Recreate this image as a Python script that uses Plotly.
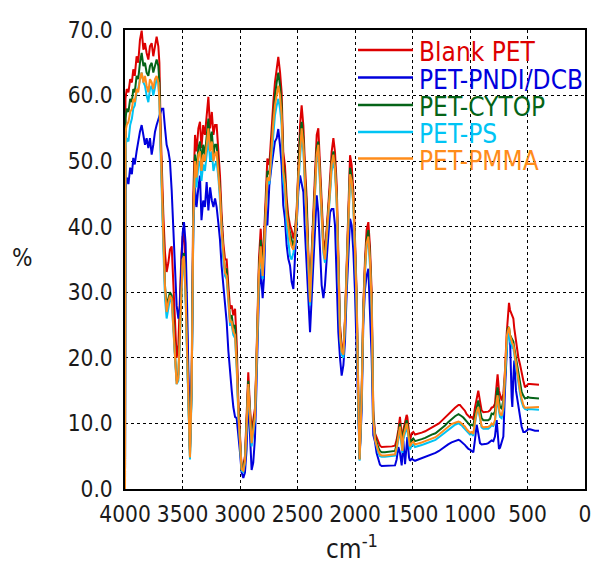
import plotly.graph_objects as go

# Wavenumber grid (cm^-1), descending
wavenumber = [
    4000, 3996, 3985, 3970, 3955, 3940, 3928, 3915, 3899, 3885, 3870, 3855, 3840, 3826, 3812,
    3797, 3783, 3768, 3754, 3739, 3725, 3710, 3701, 3690, 3680, 3667, 3652, 3638, 3623, 3609,
    3594, 3580, 3567, 3551, 3536, 3522, 3510, 3499, 3487, 3473, 3460, 3449, 3435, 3420, 3406,
    3391, 3378, 3362, 3348, 3335, 3320, 3305, 3290, 3275, 3260, 3245, 3231, 3217, 3203, 3188,
    3174, 3160, 3145, 3130, 3116, 3101, 3087, 3072, 3058, 3043, 3029, 3014, 3000, 2986, 2971,
    2957, 2943, 2928, 2913, 2899, 2885, 2870, 2861, 2849, 2835, 2820, 2803, 2792, 2774, 2762,
    2745, 2725, 2710, 2696, 2681, 2667, 2652, 2638, 2624, 2609, 2594, 2580, 2565, 2551, 2536,
    2522, 2507, 2493, 2478, 2464, 2449, 2435, 2420, 2406, 2391, 2377, 2362, 2348, 2333, 2319,
    2304, 2290, 2275, 2261, 2246, 2232, 2217, 2203, 2188, 2174, 2159, 2145, 2130, 2116, 2101,
    2087, 2072, 2058, 2043, 2029, 2014, 2000, 1986, 1971, 1960, 1942, 1928, 1913, 1899, 1884,
    1870, 1855, 1841, 1826, 1812, 1797, 1783, 1768, 1740, 1710, 1680, 1652, 1638, 1623, 1609,
    1594, 1588, 1580, 1565, 1551, 1545, 1530, 1522, 1507, 1493, 1478, 1450, 1420, 1390, 1360,
    1333, 1300, 1270, 1240, 1217, 1190, 1160, 1130, 1100, 1087, 1072, 1058, 1043, 1029, 1014,
    1000, 985, 971, 957, 942, 928, 913, 899, 884, 870, 855, 841, 826, 812, 797,
    783, 768, 760, 748, 739, 725, 710, 696, 681, 672, 661, 652, 638, 632, 623,
    615, 600, 580, 565, 551, 536, 522, 507, 493, 478, 464, 449, 435, 420, 405,
    400,
]

# Transmittance (%) for each film
blank_pet = [
    0, 59.5, 61, 60.5, 62.5, 62, 64, 63, 66, 65, 68.5, 69.9, 67, 68, 66.5,
    65.5, 67.5, 68, 66, 67.5, 69, 67.5, 65, 55, 48, 42, 36, 33.1, 34.5, 36.5,
    37, 32, 26, 20, 22, 30, 35.5, 38.5, 39, 33, 24, 15, 6, 18, 45,
    54, 51.5, 55, 56, 52, 55.5, 54, 57.5, 59.8, 55, 57.5, 54, 55.5, 55.5, 52,
    47.8, 42, 37.5, 35, 35, 31, 27.5, 28, 26.5, 27.5, 22.4, 13.3, 7.7, 3.1, 3.6,
    5, 11, 17.8, 12.3, 8.7, 10.5, 12.3, 17.3, 24.9, 35.1, 39.7, 34.1, 38.2, 46.3, 50.4,
    49.4, 55.4, 59, 62, 64.1, 65.9, 63.6, 60.5, 51.4, 49.3, 44.3, 41.7, 40.2, 39.5, 38.2,
    39.5, 42.7, 49.4, 55.4, 58.5, 55.4, 49.4, 44.3, 36.1, 30, 36.1, 42.2, 49.4, 54, 55,
    49.4, 42.2, 38.2, 36.1, 39.2, 43.3, 47.4, 51.4, 53.5, 51.4, 46.3, 35.1, 24.9, 21.9, 20.9,
    26, 35.1, 45.3, 50.9, 49.4, 45.3, 38.2, 30, 14.8, 4.6, 15, 28, 35, 39.5, 40.7,
    37, 30, 12, 8.5, 7.8, 7, 6.6, 6.4, 6.4, 6.5, 6.5, 6.6, 7.5, 9, 11,
    8, 6.2, 9, 10.5, 11.3, 11, 9, 7.4, 8.5, 8.7, 8.3, 8.4, 8.6, 8.8, 9.1,
    9.3, 9.6, 10, 10.5, 10.9, 11.4, 11.9, 12.4, 12.8, 12.8, 12.5, 12.2, 11.9, 11.4, 11.1,
    10.9, 11, 10.6, 12.4, 13.5, 15, 13.4, 12, 11.7, 11.7, 11.7, 11.8, 12, 12.4, 12.5,
    13, 16, 17.5, 15, 14.5, 13.5, 14.5, 18, 23.7, 26.5, 28.4, 27.3, 26.7, 26.2, 26,
    24.5, 22.5, 20.1, 19, 17.6, 16.5, 15.5, 15.7, 16, 16, 16, 15.9, 15.9, 15.9, 15.9,
    15.9,
]

pet_pndi_dcb = [
    0, 45.5, 47.5, 46.5, 49, 48, 50.5, 49.5, 51.5, 53, 54.5, 55.5, 54, 52.5, 53.5,
    52, 53.5, 51, 52.5, 54.5, 55.5, 56.5, 57, 57.5, 58, 58, 55, 52.5, 51.5, 50,
    45.5, 40.5, 34, 28, 26, 28, 34, 39, 40.7, 37.5, 28, 18, 6, 16, 40,
    46, 43, 46, 47.8, 41, 44, 43, 46.8, 42.5, 46, 44, 43, 44.3, 43, 40.5,
    38, 34, 31, 29, 25.5, 21, 17.3, 15, 12.5, 11, 10.8, 8.5, 5.6, 2.5, 1.7,
    2.5, 6, 14, 8, 2.9, 4, 7.7, 13, 19.9, 30, 33.6, 29.1, 32, 42.2, 40.2,
    46.3, 49.4, 51.4, 53, 53.5, 54.9, 52.4, 49.4, 43.3, 41.2, 37.1, 35.1, 34.1, 31.6, 30.5,
    35.1, 41.2, 45.3, 47.8, 46.5, 45.3, 39.2, 33.1, 27.5, 23.9, 29.1, 35.1, 40.2, 44.8, 42.2,
    35.1, 31.1, 29.1, 31.1, 35.1, 39.2, 42.2, 42.7, 42.7, 40.2, 30, 23.9, 19.9, 17.3, 18.9,
    22.5, 30, 35.1, 41.2, 40.2, 36.1, 30, 19.9, 9.7, 4.6, 12, 25, 30.5, 32.5, 33.6,
    28, 20, 8.2, 7.2, 5.5, 4.3, 3.7, 3.5, 3.5, 3.5, 3.6, 3.6, 4.5, 6.4, 5.5,
    3.6, 5, 7.4, 3.8, 6.5, 7.9, 4.8, 4.3, 4.6, 4.4, 4.3, 4.5, 4.7, 4.8, 5,
    5.2, 5.5, 5.8, 6.2, 6.5, 6.8, 7.1, 7.3, 7.5, 7.4, 7.2, 7.0, 6.7, 6.4, 6.1,
    6.0, 5.8, 5.6, 7.5, 9.8, 8.5, 7, 6.8, 6.8, 6.9, 6.9, 7, 7.2, 7.4, 7.3,
    8, 10.5, 8, 6.1, 6.3, 7, 8, 15, 20, 24.2, 23.5, 23, 14, 12.5, 17,
    19.6, 15, 12.5, 11, 9.5, 8.7, 8.7, 8.9, 9.1, 9.1, 9, 8.9, 8.9, 8.9, 8.9,
    8.9,
]

pet_cytop = [
    0, 56.5, 58, 57.5, 59.5, 59, 61, 60.5, 63, 62.5, 65, 66.5, 64.5, 65, 63.5,
    63, 64.5, 65, 63.5, 64.5, 65.5, 64.5, 62, 53, 46, 39, 31, 28, 29, 30,
    29.5, 26, 21, 16.5, 17.5, 24, 31, 35, 36, 30, 21, 13, 5, 16, 42,
    51, 48.5, 52, 53, 49.5, 52.5, 51, 54, 56.5, 52.5, 54.5, 51, 52.5, 52.5, 49.5,
    45.5, 40.5, 36, 33.5, 33.5, 29.5, 26, 26.5, 24.5, 25, 20, 12, 7, 3.0, 3.2,
    4.5, 10, 16.5, 11.5, 7.5, 9.5, 11.5, 16.5, 24, 33.5, 38, 33, 36.5, 45, 48.5,
    48, 53.5, 57, 60, 62, 63.5, 61.5, 58.5, 49.5, 47.5, 43, 40.5, 39, 38, 37,
    38.5, 42, 48, 53.5, 56, 53.5, 47.5, 43, 35, 29, 35, 41, 48, 52, 53,
    47.5, 41, 37, 35.5, 38.5, 42.5, 46, 50, 51.5, 49.5, 44.5, 34, 24, 21, 20.5,
    25.5, 34, 44, 49, 47.5, 44, 37, 29, 13.5, 4.5, 14.5, 27, 34, 38, 39.5,
    35.5, 28.5, 11, 8, 7, 6.3, 5.8, 5.6, 5.6, 5.7, 5.7, 5.8, 6.8, 8.5, 10,
    7.5, 6, 8.5, 9.5, 10.5, 10, 8, 6.8, 7.5, 7.7, 7.3, 7.4, 7.6, 7.8, 8.1,
    8.3, 8.5, 8.9, 9.3, 9.7, 10.2, 10.7, 11.1, 11.4, 11.3, 11.1, 10.9, 10.6, 10.2, 9.9,
    9.7, 9.8, 9.6, 11.2, 12.5, 13.5, 12, 10.8, 10.5, 10.5, 10.5, 10.5, 10.7, 11.5, 11.4,
    11.8, 14.5, 15.5, 13.5, 12.5, 12.3, 13.5, 17, 23, 24.5, 24.7, 23.5, 23, 22.7, 22.5,
    21.5, 20, 18, 16, 14.8, 14.2, 13.8, 13.9, 14, 13.9, 13.9, 13.8, 13.8, 13.8, 13.8,
    13.8,
]

pet_ps = [
    0, 52, 53.5, 53, 55.5, 56.5, 58, 58.5, 60.5, 61, 62.5, 63.5, 62, 61.5, 60,
    59, 61, 61.5, 60, 61.5, 62.5, 62, 59, 51, 44, 37, 29, 26, 27.5, 29,
    28.5, 24.5, 19.5, 16, 16.5, 23, 30, 34, 35, 29, 20, 12.5, 4.5, 15, 40,
    48.5, 46, 49.5, 50, 47, 49.5, 48.5, 51.5, 53.5, 50, 51.5, 48.5, 49.5, 50, 47.5,
    44, 39, 35, 32.5, 32, 28.5, 25, 25, 23.5, 23, 18.5, 11, 6, 2.8, 2.6,
    4, 9, 15.5, 10.5, 6.5, 8.5, 10.5, 15.5, 23, 32, 36.5, 32, 35.5, 43.5, 47,
    46.5, 51, 54.5, 57, 58.5, 59.5, 58, 55.5, 47, 45, 40, 37.5, 35.5, 35, 36,
    37.5, 41, 46.5, 51.5, 54, 51.5, 46, 41.5, 33.5, 28, 34, 40, 46.5, 50.5, 51.5,
    46, 39.5, 36, 34.5, 37.5, 41.5, 45, 48.5, 50, 48.5, 43.5, 33, 23, 20.5, 20,
    25, 33, 43, 47.5, 46.5, 43, 36, 28, 13, 4.3, 14, 26.5, 33, 37, 38,
    34, 27.5, 10.5, 7.5, 6.5, 5.5, 5, 4.9, 4.9, 5, 5, 5.1, 6, 7.5, 9,
    6.5, 5.5, 7.5, 8.5, 9.5, 9, 7, 6, 6.6, 6.8, 6.4, 6.5, 6.7, 6.9, 7.1,
    7.3, 7.5, 7.9, 8.3, 8.6, 9.1, 9.5, 9.8, 10, 9.9, 9.7, 9.4, 9.1, 8.8, 8.5,
    8.3, 8.4, 8.1, 10, 11.5, 12.2, 10.5, 9.4, 9.2, 9.2, 9.2, 9.2, 9.4, 9.7, 9.6,
    10.2, 13, 13.8, 11.8, 11, 10.8, 12, 17, 22.5, 23.5, 24, 22.5, 22, 21.5, 21.5,
    20.5, 18.5, 16.5, 14.5, 13.3, 12.5, 12.2, 12.1, 12.2, 12.2, 12.1, 12.1, 12.1, 12.1, 12.1,
    12.1,
]

pet_pmma = [
    0, 54.5, 55.5, 56, 57.5, 58, 59.5, 59, 61, 60.5, 62.5, 63.5, 62, 63, 61.5,
    60.5, 62.5, 62, 61, 62.5, 63, 62, 59.5, 51.5, 45, 38.5, 30.5, 27, 28.5, 29.5,
    29, 25, 20, 16, 17, 24, 31, 35, 35.5, 29.5, 21, 13, 4.8, 16, 41,
    50, 47.5, 51, 51.5, 48.5, 51, 50, 53, 55, 51.5, 53, 50, 51, 51.5, 48.5,
    45, 39.5, 35.5, 33, 32.5, 29, 25.5, 25.5, 24, 23.5, 19, 11.5, 6.5, 3, 2.8,
    4.2, 9.5, 16, 11, 7, 9, 11, 16, 23.5, 33, 37, 32.5, 36, 44, 47.5,
    47, 52.5, 56, 58.5, 60.5, 61.5, 60, 57, 48.5, 46.5, 42, 39.5, 38, 37, 36.5,
    38, 41.5, 47.5, 52.5, 55, 52.5, 47, 42.5, 34.5, 28.5, 34.5, 40.5, 47, 51, 52.5,
    47, 40.5, 36.5, 35, 38, 42, 45.5, 49.5, 51, 49, 44, 33.5, 23.5, 21, 20.5,
    25.5, 33.5, 43.5, 48, 47, 43.5, 36.5, 28.5, 13.5, 4.5, 14, 26.5, 33.5, 37.5, 38.5,
    35, 28, 10.5, 7.5, 6.5, 5.8, 5.3, 5.1, 5.1, 5.2, 5.2, 5.3, 6.3, 8, 9.5,
    7, 5.8, 8, 9, 10, 9.5, 7.5, 6.5, 7, 7.2, 6.8, 6.9, 7.1, 7.3, 7.5,
    7.7, 7.9, 8.3, 8.7, 9, 9.5, 9.9, 10.1, 10.3, 10.2, 10, 9.8, 9.5, 9.1, 8.8,
    8.6, 8.7, 8.4, 10.3, 11.8, 12.5, 10.8, 9.6, 9.4, 9.4, 9.4, 9.5, 9.6, 10, 9.8,
    10.5, 13.5, 14.3, 12.3, 11.5, 11.2, 12.5, 17.5, 23.2, 24, 24.7, 23.5, 22.5, 22.2, 22,
    21, 19, 17, 15, 13.8, 12.8, 12.4, 12.4, 12.5, 12.5, 12.5, 12.4, 12.5, 12.5, 12.5,
    12.5,
]

series_names = ["Blank PET", "PET-PNDI/DCB", "PET-CYTOP", "PET-PS", "PET-PMMA"]
series_values = [blank_pet, pet_pndi_dcb, pet_cytop, pet_ps, pet_pmma]
series_colors = ["#dd0000", "#0000dd", "#056418", "#00c4f4", "#ff8c1a"]

y_ticks = [0, 10, 20, 30, 40, 50, 60, 70]
x_ticks = [4000, 3500, 3000, 2500, 2000, 1500, 1000, 500, 0]

FONT = "DejaVu Sans Condensed, Liberation Sans Narrow, Arial Narrow, sans-serif"
TEXT_COLOR = "#1a1a1a"

fig = go.Figure()
for name, vals, color in zip(series_names, series_values, series_colors):
    fig.add_trace(go.Scatter(
        x=wavenumber, y=vals, name=name, mode="lines",
        line=dict(color=color, width=2), showlegend=False,
    ))

# Figure geometry in pixels
W, H = 592, 564
L, R, T, B = 125, 7, 30, 75
PW, PH = W - L - R, H - T - B


def px_x(x):
    return (x - L) / PW


def px_y(y):
    return (H - B - y) / PH


# Legend drawn inside the plot: colored sample line plus colored label
legend_rows = [50, 77.5, 105, 132, 158.5]
shapes = []
annotations = []
for name, color, row in zip(series_names, series_colors, legend_rows):
    shapes.append(dict(type="line", xref="paper", yref="paper",
                       x0=px_x(358), x1=px_x(413), y0=px_y(row), y1=px_y(row),
                       line=dict(color=color, width=2.5)))
    annotations.append(dict(xref="paper", yref="paper", x=px_x(417), y=px_y(row),
                            xanchor="left", yanchor="middle", yshift=-2,
                            text=name, showarrow=False,
                            font=dict(family=FONT, size=26, color=color)))

# Axis titles
annotations.append(dict(xref="paper", yref="paper", x=px_x(22), y=px_y(258),
                        xanchor="center", yanchor="middle", text="%", showarrow=False,
                        font=dict(family=FONT, size=24, color=TEXT_COLOR)))
annotations.append(dict(xref="paper", yref="paper", x=px_x(352), y=px_y(547),
                        xanchor="center", yanchor="middle", text="cm<sup>-1</sup>",
                        showarrow=False, font=dict(family=FONT, size=26, color=TEXT_COLOR)))

fig.update_layout(
    width=W, height=H,
    margin=dict(l=L, r=R, t=T, b=B, autoexpand=False),
    paper_bgcolor="white", plot_bgcolor="white",
    font=dict(family=FONT, size=22, color=TEXT_COLOR),
    shapes=shapes, annotations=annotations,
    showlegend=False,
)
fig.update_xaxes(
    range=[4000, 0], tickvals=x_ticks, ticktext=[str(v) for v in x_ticks],
    tickangle=0, automargin=False,
    showgrid=True, gridcolor="black", gridwidth=1, griddash="dot",
    showline=True, linecolor="black", linewidth=1.5, mirror=True,
    ticks="", ticklabelstandoff=4, zeroline=False,
    tickfont=dict(family=FONT, size=22.5, color=TEXT_COLOR),
)
fig.update_yaxes(
    range=[0, 70], tickvals=y_ticks, tickformat=".1f", automargin=False,
    showgrid=True, gridcolor="black", gridwidth=1, griddash="dot",
    showline=True, linecolor="black", linewidth=1.5, mirror=True,
    ticks="", ticklabelstandoff=6, zeroline=False,
    tickfont=dict(family=FONT, size=22.5, color=TEXT_COLOR),
)

fig.write_html("out.html")
